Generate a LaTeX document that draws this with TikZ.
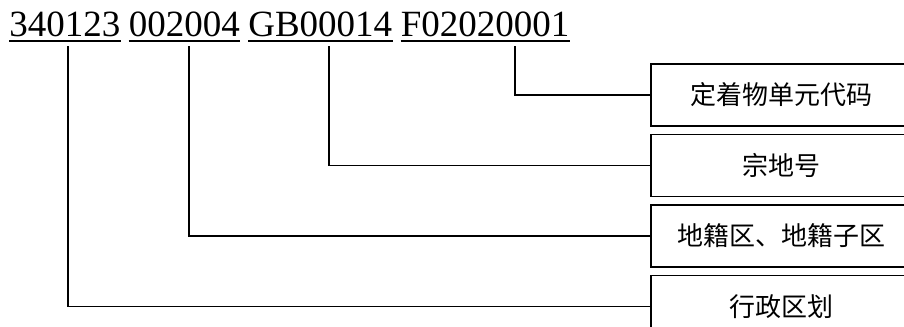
\documentclass[tikz,border=0pt]{standalone}
\usepackage{fontspec}
\setmainfont{Liberation Serif}
\newfontfamily\cjkfont{Noto Sans CJK SC}
\usetikzlibrary{positioning,calc}

\begin{document}
\begin{tikzpicture}[x=0.75pt, y=-0.75pt,
    seg/.style={inner sep=0pt, font=\fontsize{27.75}{30}\selectfont},
    codebox/.style={draw, line width=1.1pt, minimum width=195pt, minimum height=46.5pt,
        inner sep=0pt, font=\cjkfont\fontsize{19.5}{22}\selectfont},
    uline/.style={line width=1.4pt},
    link/.style={line width=1.1pt}]
    \useasboundingbox (0,0) rectangle (904,326);

    % Code segments
    \node[seg, anchor=base west] (xzqh) at (9,36) {340123};
    \node[seg, base right=6pt of xzqh] (djq) {002004};
    \node[seg, base right=6pt of djq] (zdh) {GB00014};
    \node[seg, base right=6pt of zdh] (dzw) {F02020001};

    % Underlines
    \foreach \n in {xzqh,djq,zdh,dzw}
        \draw[uline] ($(\n.base west)+(0,5)$) -- ($(\n.base east)+(0,5)$);

    % Boxes
    \node[codebox] (b-dzw) at (781,95) {定着物单元代码};
    \node[codebox, below=5.25pt of b-dzw] (b-zdh) {宗地号};
    \node[codebox, below=5.25pt of b-zdh] (b-djq) {地籍区、地籍子区};
    \node[codebox, below=5.25pt of b-djq] (b-xzqh) {行政区划};

    % Connectors
    \coordinate (p-xzqh) at (68,46);
    \coordinate (p-djq) at (189,46);
    \coordinate (p-zdh) at (329,46);
    \coordinate (p-dzw) at (515,46);
    \draw[link] (p-dzw) |- (b-dzw.west);
    \draw[link] (p-zdh) |- (b-zdh.west);
    \draw[link] (p-djq) |- (b-djq.west);
    \draw[link] (p-xzqh) |- (b-xzqh.west);
\end{tikzpicture}
\end{document}
